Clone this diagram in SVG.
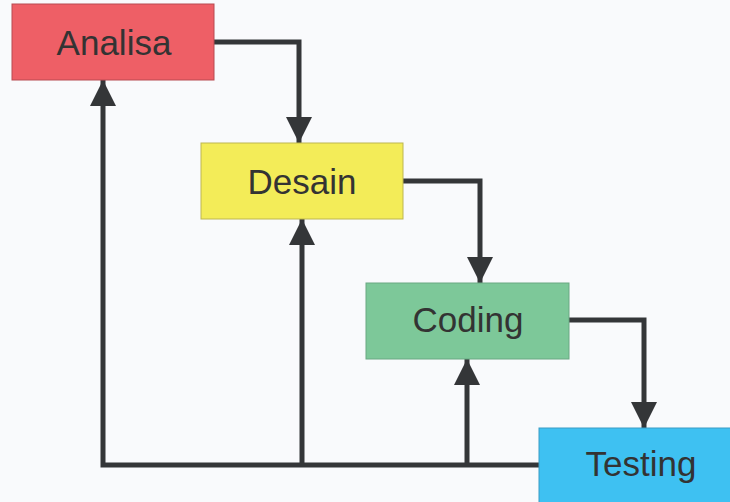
<svg xmlns="http://www.w3.org/2000/svg" width="730" height="502" viewBox="0 0 730 502">
<defs>
<style>
.box{stroke-width:1}
.lbl{font-family:"Liberation Sans",Arial,sans-serif;font-size:35px;fill:#333333;text-anchor:middle;dominant-baseline:central}
.conn{fill:none;stroke:#343638;stroke-width:5;stroke-linejoin:miter}
</style>
<marker id="ah" markerUnits="userSpaceOnUse" markerWidth="26" markerHeight="26" viewBox="0 0 26 26" refX="26" refY="13" orient="auto">
<path d="M0,0 L26,13 L0,26 Z" fill="#343638"/>
</marker>
</defs>
<rect width="730" height="502" fill="#f9fafc"/>
<g id="connectors">
<polyline class="conn" points="214,42 299,42 299,143" marker-end="url(#ah)"/>
<polyline class="conn" points="403,181 480,181 480,283" marker-end="url(#ah)"/>
<polyline class="conn" points="569,320 644,320 644,428" marker-end="url(#ah)"/>
<polyline class="conn" points="539,465 103,465 103,80" marker-end="url(#ah)"/>
<line class="conn" x1="302" y1="465" x2="302" y2="219" marker-end="url(#ah)"/>
<line class="conn" x1="467" y1="465" x2="467" y2="359" marker-end="url(#ah)"/>
</g>
<g id="analisa">
<rect class="box" x="12" y="4" width="202" height="76" fill="#ee5f66" stroke="#b84a50"/>
<text class="lbl" x="114" y="42">Analisa</text>
</g>
<g id="desain">
<rect class="box" x="201" y="143" width="202" height="76" fill="#f3ec58" stroke="#bdb650"/>
<text class="lbl" x="302" y="181">Desain</text>
</g>
<g id="coding">
<rect class="box" x="366" y="283" width="203" height="76" fill="#7dc899" stroke="#6aa882"/>
<text class="lbl" x="468" y="319">Coding</text>
</g>
<g id="testing">
<rect class="box" x="539" y="428" width="200" height="80" fill="#3ec1f2" stroke="#3a9cc4"/>
<text class="lbl" x="641" y="463">Testing</text>
</g>
</svg>
